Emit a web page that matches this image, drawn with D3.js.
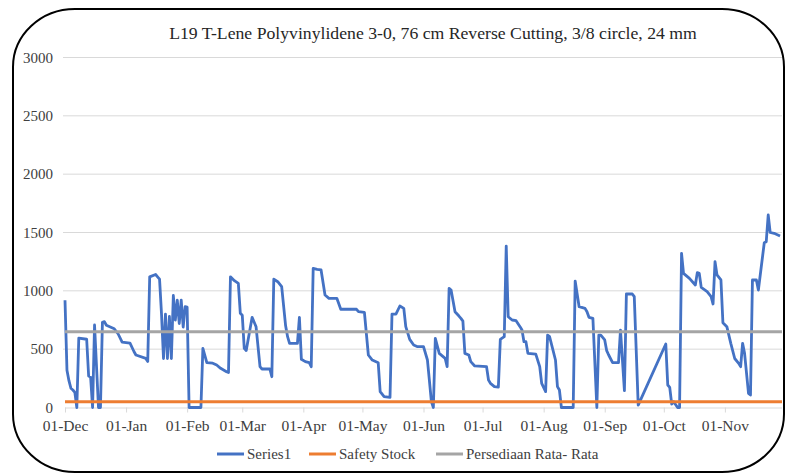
<!DOCTYPE html>
<html><head><meta charset="utf-8">
<script src="https://cdn.jsdelivr.net/npm/d3@7"></script>
<style>html,body{margin:0;padding:0;background:#fff;}svg{display:block;}</style>
</head><body><svg id="c" width="788" height="475"></svg>
<script>
const titleText = "L19 T-Lene Polyvinylidene 3-0, 76 cm Reverse Cutting, 3/8 circle, 24 mm";
const startDate = "2018-12-01";
const endDate = "2019-11-30";
// day offset from 01-Dec and stock value
const dayOffsets = [0,1,2,3,4,5,6,7,11,12,13,14,15,16,17,18,19,20,21,23,25,27,29,33,35,36,41,42,43,46,47,48,
  49,50,51,52,53,54,55,56,57,58,59,60,61,62,63,69,70,72,75,77,79,82,83,84,86,88,89,90,91,92,95,97,99,100,104,105,
  106,108,110,112,113,114,118,119,120,122,124,125,126,128,130,132,134,138,140,148,149,152,154,156,159,160,162,165,
  166,168,170,172,173,175,177,179,182,184,185,186,187,188,190,193,194,195,196,198,200,201,202,203,205,206,208,214,
  215,216,218,220,221,223,224,225,227,229,231,232,233,234,235,239,241,242,244,245,246,249,250,251,252,258,259,261,
  264,265,266,268,270,271,272,274,275,276,278,281,282,284,285,288,289,291,305,306,307,308,309,311,312,313,314,317,
  320,321,322,323,326,328,329,330,331,333,334,336,338,340,342,343,344,345,347,348,349,351,352,355,356,357,358,360,363];
const stockValues = [920,320,230,165,150,130,0,595,585,270,260,0,707,350,0,0,730,736,705,690,675,630,560,552,480,450,421,395,1120,1140,1120,1100,
  800,420,800,420,780,420,960,750,920,720,920,690,864,860,0,0,507,384,380,364,336,307,300,1120,1087,1064,807,790,507,488,773,692,350,330,330,264,
  1100,1078,1036,700,607,550,550,773,413,393,384,350,1193,1184,1179,964,936,936,842,842,821,815,450,407,384,136,93,87,
  800,800,870,850,693,584,536,521,521,407,230,50,0,593,464,421,350,1021,1007,821,784,764,740,464,450,393,356,350,
  236,207,179,175,584,607,1384,778,750,744,693,664,564,564,464,457,350,207,136,621,607,407,179,150,0,0,1084,864,
  850,821,773,764,0,621,621,579,487,450,384,384,664,144,973,973,950,20,544,193,173,30,50,0,0,1321,1150,1107,
  1050,1156,1150,1030,993,950,887,1250,1136,1093,727,693,550,420,379,350,550,464,121,107,1093,1093,1007,1412,1421,1650,1500,1493,1470];
const safetyStock = 50;
const averageStock = 650;
const yTicks = [0,500,1000,1500,2000,2500,3000];
const monthTickDates = ["2018-12-01","2019-01-01","2019-02-01","2019-03-01","2019-04-01","2019-05-01","2019-06-01","2019-07-01","2019-08-01","2019-09-01","2019-10-01","2019-11-01"];
const monthTickLabels = ["01-Dec","01-Jan","01-Feb","01-Mar","01-Apr","01-May","01-Jun","01-Jul","01-Aug","01-Sep","01-Oct","01-Nov"];
const legendLabels = ["Series1","Safety Stock","Persediaan Rata- Rata"];
const colors = ["#4472C4","#ED7D31","#A5A5A5"];

const parse = d3.utcParse("%Y-%m-%d");
const t0 = parse(startDate);
const series = dayOffsets.map((d,i)=>({date:d3.utcDay.offset(t0,d), value:stockValues[i]}));

const svg = d3.select("#c");
const font = "'Liberation Serif','Times New Roman',serif";
const m = {left:65, right:782, top:57.5, bottom:407.5};
const x = d3.scaleUtc().domain([t0, parse(endDate)]).range([m.left, m.right]);
const y = d3.scaleLinear().domain([0,3000]).range([m.bottom, m.top]);

// border
svg.append("rect").attr("x",13).attr("y",9).attr("width",771).attr("height",463)
  .attr("rx",62).attr("ry",58).attr("fill","none").attr("stroke","#000").attr("stroke-width",2);

// title
svg.append("text").attr("x",433).attr("y",39).attr("text-anchor","middle")
  .attr("font-family",font).attr("font-size",17.7).attr("fill","#262626").text(titleText);

// grid
svg.append("g").selectAll("line").data(yTicks.filter(v=>v>0)).join("line")
  .attr("x1",m.left-2).attr("x2",m.right).attr("y1",d=>y(d)).attr("y2",d=>y(d))
  .attr("stroke","#d9d9d9").attr("stroke-width",1);

// y axis labels
const yAxis = d3.axisLeft(y).tickValues(yTicks).tickSize(0).tickPadding(12).tickFormat(d3.format("d"));
const yg = svg.append("g").attr("transform",`translate(${m.left},0)`).call(yAxis);
yg.select(".domain").remove();
yg.selectAll("text").attr("font-family",font).attr("font-size",15).attr("fill","#404040");

// x axis
const xAxis = d3.axisBottom(x).tickValues(monthTickDates.map(parse)).tickSize(5).tickPadding(7)
  .tickFormat((d,i)=>monthTickLabels[i]);
const xg = svg.append("g").attr("transform",`translate(0,${m.bottom})`).call(xAxis);
xg.select(".domain").attr("stroke","#d9d9d9").attr("d",`M${m.left},0.5H${m.right}`);
xg.selectAll(".tick line").attr("stroke","#d9d9d9");
xg.selectAll("text").attr("font-family",font).attr("font-size",15.5).attr("fill","#404040");

// series line
const line = d3.line().x(d=>x(d.date)).y(d=>y(d.value));
svg.append("path").datum(series).attr("d",line).attr("fill","none")
  .attr("stroke",colors[0]).attr("stroke-width",2.8).attr("stroke-linejoin","round");

// reference lines
[safetyStock, averageStock].forEach((v,i)=>{
  svg.append("line").attr("x1",m.left).attr("x2",m.right).attr("y1",y(v)).attr("y2",y(v))
    .attr("stroke",colors[i+1]).attr("stroke-width",3);
});

// legend
const legX = [217,309,436];
const lg = svg.append("g");
legendLabels.forEach((t,i)=>{
  lg.append("line").attr("x1",legX[i]).attr("x2",legX[i]+27).attr("y1",454).attr("y2",454)
    .attr("stroke",colors[i]).attr("stroke-width",3);
  lg.append("text").attr("x",legX[i]+30).attr("y",459).attr("font-family",font).attr("font-size",15)
    .attr("fill","#404040").text(t);
});
</script></body></html>
